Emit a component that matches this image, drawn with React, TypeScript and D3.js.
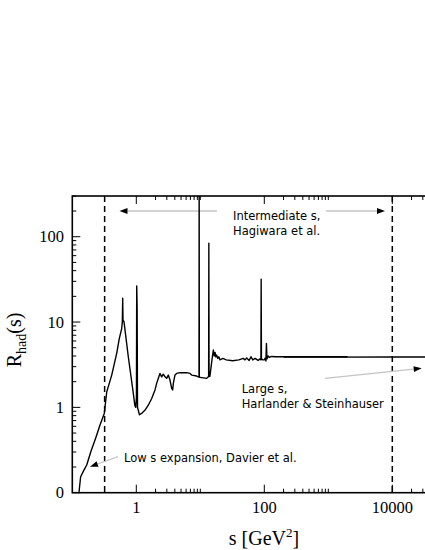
import React from "react";
import * as d3 from "d3";

// Intermediate-s curve (data-driven R_had(s))
const sIntermediate = [
  0.12, 0.127, 0.135, 0.152, 0.168, 0.194, 0.235, 0.271, 0.316, 0.345, 0.413, 0.494, 0.542, 0.59, 0.605,
  0.613, 0.62, 0.642, 0.75, 0.898, 0.95, 0.98, 1.005, 1.015, 1.03, 1.045, 1.12, 1.21, 1.37, 1.54, 1.74,
  1.96, 2.08, 2.21, 2.34, 2.49, 2.64, 2.81, 2.98, 3.16, 3.36, 3.57, 3.7, 3.79, 4.02, 4.27, 4.82, 6.13,
  6.9, 7.34, 8.77, 9.3, 9.55, 9.6, 9.65, 9.9, 12.6, 13.5, 13.6, 13.7, 14.1, 14.6, 15.0, 15.5, 16.0, 16.5,
  17.0, 17.5, 18.0, 18.8, 19.5, 20.3, 22.5, 25.4, 32, 40, 47, 50, 53, 58, 62, 66, 72, 80, 86, 88.5, 89.3,
  90.2, 95, 100, 104, 106, 108, 110, 115, 120, 130, 150, 300, 1000, 2000,
];
const rIntermediate = [
  0.08, 0.1, 0.154, 0.184, 0.211, 0.3, 0.45, 0.62, 0.85, 1.52, 2.39, 4.3, 6.4, 8.3, 10,
  19, 10.5, 10.1, 3.92, 1.46, 1.05, 1.0, 1.3, 26.4, 15, 1.0, 0.82, 0.85, 0.93, 1.06, 1.27,
  1.6, 1.91, 2.19, 2.5, 2.28, 2.45, 2.28, 2.19, 2.39, 2.09, 1.67, 1.6, 1.91, 2.39, 2.5, 2.55, 2.55,
  2.5, 2.39, 2.33, 2.28, 2.3, 1000, 2.25, 2.25, 2.19, 2.3, 84, 2.4, 2.3, 2.8, 3.3, 4.0, 4.7, 4.0,
  4.4, 3.9, 4.1, 3.75, 3.92, 3.6, 3.75, 3.6, 3.52, 3.6, 3.75, 3.6, 3.8, 3.55, 3.92, 3.6, 3.75, 3.55, 3.7, 3.6, 31.7,
  3.7, 3.6, 3.6, 3.8, 3.5, 5.6, 3.7, 4.0, 3.85, 3.95, 3.92, 3.92, 3.92, 3.92,
];
// Large-s curve (perturbative QCD)
const sLarge = [200, 1000, 10000, 100000];
const rLarge = [3.88, 3.88, 3.89, 3.89];

// Region boundaries (dashed lines)
const boundaries = [0.32, 10000];

const xMajorTicks = [1, 100, 10000];
const xTickLabels = ["1", "100", "10000"];
const yMajorTicks = [0.1, 1, 10, 100];
const yTickLabels = ["0", "1", "10", "100"];

function Arrow({ x1, y1, x2, y2 }: { x1: number; y1: number; x2: number; y2: number }) {
  const ang = Math.atan2(y2 - y1, x2 - x1);
  const len = 8, hw = 3;
  const bx = x2 - len * Math.cos(ang), by = y2 - len * Math.sin(ang);
  const px = -Math.sin(ang) * hw, py = Math.cos(ang) * hw;
  return (
    <g>
      <line x1={x1} y1={y1} x2={bx} y2={by} stroke="#c4c4c4" strokeWidth={1.3} />
      <path d={`M${x2},${y2}L${bx + px},${by + py}L${bx - px},${by - py}Z`} fill="#000" />
    </g>
  );
}

export default function App() {
  const W = 425, H = 550;
  const left = 72.3, right = 456.3, top = 196, bottom = 492.7;
  const x = d3.scaleLog().domain([0.1, 1e5]).range([left, right]);
  const y = d3.scaleLog().domain([0.1, 300]).range([bottom, top]);
  const line = d3.line<[number, number]>().x((d) => x(d[0])).y((d) => y(d[1]));
  const interPts = sIntermediate.map((s, i) => [s, rIntermediate[i]] as [number, number]);
  const largePts = sLarge.map((s, i) => [s, rLarge[i]] as [number, number]);

  const xMinor: number[] = [];
  xMajorTicks.forEach((m) => { for (let k = 2; k <= 10; k++) xMinor.push(m * k); });
  const yMinor: number[] = [];
  yMajorTicks.forEach((m) => { for (let k = 2; k <= 9; k++) if (m * k <= 300) yMinor.push(m * k); });

  const serif = "'Liberation Serif', 'Times New Roman', serif";
  const sans = "'DejaVu Sans', sans-serif";
  const annot = 11.5;

  return (
    <svg width={W} height={H} style={{ position: "absolute", left: 0, top: 0, background: "#fff" }}>
      <defs>
        <clipPath id="plotclip">
          <rect x={left} y={top} width={right - left} height={bottom - top} />
        </clipPath>
      </defs>

      {/* boundaries */}
      {boundaries.map((b, i) => (
        <line key={i} x1={x(b)} x2={x(b)} y1={top} y2={bottom} stroke="#000" strokeWidth={1.5} strokeDasharray="6,4" />
      ))}

      {/* annotation arrows */}
      <Arrow x1={217} y1={211} x2={119.5} y2={211} />
      <Arrow x1={326} y1={211} x2={385} y2={211} />
      <Arrow x1={118} y1={456.7} x2={90} y2={466.7} />
      <Arrow x1={325} y1={378.3} x2={421.7} y2={368.3} />

      {/* curves */}
      <g clipPath="url(#plotclip)">
        <path d={line(largePts) || ""} fill="none" stroke="#000" strokeWidth={1.4} />
        <path d={line(interPts) || ""} fill="none" stroke="#000" strokeWidth={1.4} strokeLinejoin="round" />
      </g>

      {/* frame */}
      <rect x={left} y={top} width={right - left} height={bottom - top} fill="none" stroke="#000" strokeWidth={1.6} />

      {/* x ticks */}
      {xMajorTicks.map((t, i) => (
        <g key={"xm" + i}>
          <line x1={x(t)} x2={x(t)} y1={bottom} y2={bottom - 8} stroke="#000" strokeWidth={1} />
          <line x1={x(t)} x2={x(t)} y1={top} y2={top + 8} stroke="#000" strokeWidth={1} />
          <text x={x(t)} y={513} textAnchor="middle" fontFamily={serif} fontSize={16.5}>{xTickLabels[i]}</text>
        </g>
      ))}
      {xMinor.map((t, i) => (
        <g key={"xn" + i}>
          <line x1={x(t)} x2={x(t)} y1={bottom} y2={bottom - 4} stroke="#000" strokeWidth={1} />
          <line x1={x(t)} x2={x(t)} y1={top} y2={top + 4} stroke="#000" strokeWidth={1} />
        </g>
      ))}

      {/* y ticks */}
      {yMajorTicks.map((t, i) => (
        <g key={"ym" + i}>
          <line x1={left} x2={left + 8} y1={y(t)} y2={y(t)} stroke="#000" strokeWidth={1} />
          <text x={64} y={y(t) + 5.5} textAnchor="end" fontFamily={serif} fontSize={16.5}>{yTickLabels[i]}</text>
        </g>
      ))}
      {yMinor.map((t, i) => (
        <line key={"yn" + i} x1={left} x2={left + 4} y1={y(t)} y2={y(t)} stroke="#000" strokeWidth={1} />
      ))}

      {/* axis titles */}
      <text x={264} y={545} textAnchor="middle" fontFamily={serif} fontSize={20}>
        s [GeV<tspan dy={-8} fontSize={13}>2</tspan><tspan dy={8}>]</tspan>
      </text>
      <text transform="translate(21,340) rotate(-90)" textAnchor="middle" fontFamily={serif} fontSize={20}>
        R<tspan dy={5} fontSize={14}>had</tspan><tspan dy={-5}>(s)</tspan>
      </text>

      {/* annotations */}
      <text fontFamily={sans} fontSize={annot} fill="#000">
        <tspan x={233} y={219.5}>Intermediate s,</tspan>
        <tspan x={233} y={234.5}>Hagiwara et al.</tspan>
      </text>
      <text fontFamily={sans} fontSize={annot} fill="#000">
        <tspan x={124} y={461.5}>Low s expansion, Davier et al.</tspan>
      </text>
      <text fontFamily={sans} fontSize={annot} fill="#000">
        <tspan x={241.7} y={393.3}>Large s,</tspan>
        <tspan x={241.7} y={408.3}>Harlander &amp; Steinhauser</tspan>
      </text>
    </svg>
  );
}
